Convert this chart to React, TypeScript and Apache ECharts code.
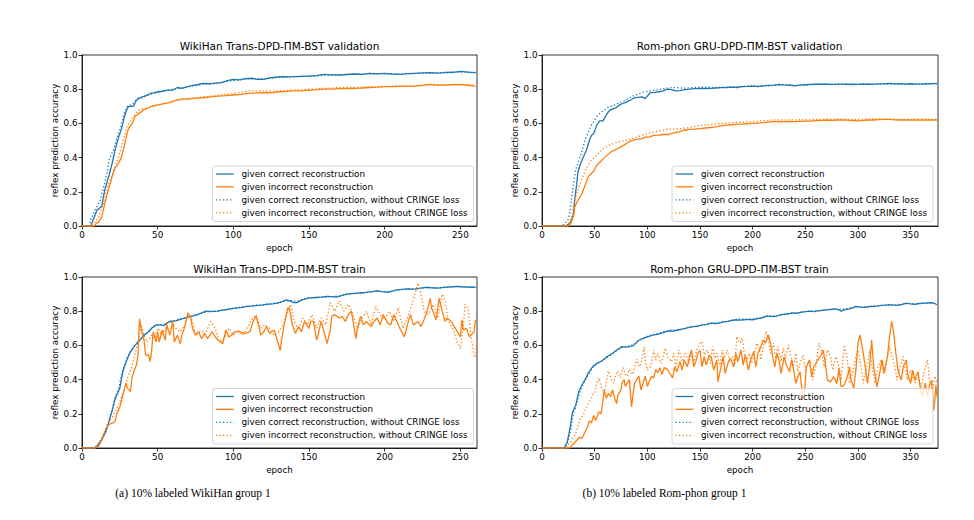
import React, { useEffect, useRef } from "react";
import * as echarts from "echarts";

// ---------- names ----------
const seriesNames = [
  "given correct reconstruction",
  "given incorrect reconstruction",
  "given correct reconstruction, without CRINGE loss",
  "given incorrect reconstruction, without CRINGE loss",
];
const panelTitles = [
  "WikiHan Trans-DPD-ΠM-BST validation",
  "Rom-phon GRU-DPD-ΠM-BST validation",
  "WikiHan Trans-DPD-ΠM-BST train",
  "Rom-phon GRU-DPD-ΠM-BST train",
];
const captions = ["(a) 10% labeled WikiHan group 1", "(b) 10% labeled Rom-phon group 1"];
const xTicksWiki = [0, 50, 100, 150, 200, 250];
const xTicksRom = [0, 50, 100, 150, 200, 250, 300, 350];
const yTicks = [0, 0.2, 0.4, 0.6, 0.8, 1.0];

// ---------- WikiHan validation ----------
const wikiValCorrect = [[0,0],[6,0],[7,0.03],[8,0.05],[10,0.095],[11,0.10],[13,0.115],[15,0.21],[18,0.30],[20,0.37],[22,0.45],[24,0.515],[26,0.565],[27,0.60],[28,0.64],[30,0.69],[31,0.70],[34,0.70],[36,0.735],[37,0.746],[40,0.755],[43,0.765],[45,0.775],[48,0.78],[50,0.785],[53,0.788],[56,0.795],[60,0.795],[63,0.81],[66,0.805],[70,0.815],[73,0.822],[76,0.826],[80,0.834],[84,0.832],[88,0.836],[92,0.838],[96,0.85],[100,0.857],[104,0.855],[108,0.862],[112,0.864],[116,0.858],[120,0.857],[124,0.866],[128,0.87],[132,0.873],[136,0.872],[140,0.873],[145,0.875],[150,0.877],[155,0.879],[160,0.887],[165,0.884],[170,0.883],[175,0.886],[180,0.889],[185,0.887],[190,0.893],[195,0.89],[200,0.893],[205,0.889],[210,0.887],[215,0.891],[220,0.893],[225,0.895],[230,0.897],[235,0.894],[240,0.898],[245,0.899],[250,0.904],[255,0.9],[260,0.897]];
const wikiValIncorrect = [[0,0],[8,0],[10,0.02],[11,0.023],[13,0.05],[15,0.13],[17,0.20],[19,0.26],[21,0.32],[22,0.34],[24,0.365],[26,0.40],[28,0.47],[30,0.55],[31,0.575],[33,0.595],[35,0.64],[38,0.66],[41,0.68],[44,0.69],[46,0.70],[50,0.707],[54,0.715],[58,0.722],[62,0.735],[66,0.742],[70,0.742],[75,0.748],[80,0.75],[85,0.755],[90,0.76],[95,0.762],[100,0.766],[105,0.77],[110,0.775],[115,0.778],[120,0.78],[125,0.778],[130,0.785],[135,0.787],[140,0.79],[145,0.79],[150,0.795],[155,0.797],[160,0.80],[165,0.80],[170,0.803],[175,0.804],[180,0.805],[185,0.807],[190,0.81],[195,0.812],[200,0.815],[205,0.815],[210,0.816],[215,0.817],[220,0.818],[225,0.822],[230,0.828],[235,0.824],[240,0.824],[245,0.826],[250,0.828],[255,0.823],[260,0.818]];
const wikiValCorrectNC = [[0,0],[5,0],[6,0.05],[7,0.06],[9,0.10],[12,0.15],[15,0.25],[17,0.33],[18,0.39],[21,0.45],[24,0.54],[26,0.59],[28,0.66],[30,0.70],[33,0.71],[36,0.74],[40,0.75],[45,0.77],[50,0.78],[55,0.79],[60,0.80],[65,0.805],[70,0.815],[75,0.82],[80,0.83],[85,0.83],[90,0.835],[95,0.845],[100,0.85],[105,0.855],[110,0.86],[115,0.862],[120,0.862],[125,0.865],[130,0.87],[135,0.87],[140,0.872],[145,0.875],[150,0.876],[155,0.878],[160,0.882],[165,0.883],[170,0.884],[175,0.886],[180,0.888],[185,0.887],[190,0.89],[195,0.889],[200,0.891],[205,0.889],[210,0.888],[215,0.89],[220,0.892],[225,0.893],[230,0.894],[235,0.893],[240,0.896],[245,0.897],[250,0.9],[255,0.899],[260,0.896]];
const wikiValIncorrectNC = [[0,0],[7,0],[9,0.03],[11,0.05],[14,0.13],[17,0.23],[20,0.30],[21,0.32],[24,0.40],[26,0.46],[28,0.53],[30,0.59],[31,0.60],[34,0.64],[38,0.68],[42,0.69],[46,0.70],[50,0.71],[55,0.715],[60,0.73],[65,0.74],[70,0.745],[75,0.75],[80,0.755],[85,0.76],[90,0.765],[95,0.77],[100,0.775],[105,0.782],[110,0.79],[115,0.79],[120,0.79],[125,0.788],[130,0.79],[135,0.793],[140,0.795],[145,0.797],[150,0.80],[155,0.803],[160,0.805],[165,0.807],[170,0.81],[175,0.81],[180,0.81],[185,0.812],[190,0.814],[195,0.815],[200,0.817],[205,0.818],[210,0.818],[215,0.82],[220,0.82],[225,0.824],[230,0.826],[235,0.826],[240,0.828],[245,0.828],[250,0.827],[255,0.825],[260,0.822]];

// ---------- Rom-phon validation ----------
const romValCorrect = [[0,0],[22,0],[25,0.01],[27,0.02],[30,0.07],[31,0.15],[33,0.25],[34,0.31],[36,0.355],[39,0.40],[42,0.44],[45,0.50],[47,0.53],[49,0.54],[52,0.59],[55,0.615],[58,0.615],[61,0.65],[64,0.675],[67,0.685],[70,0.69],[73,0.705],[76,0.715],[79,0.722],[82,0.73],[85,0.74],[88,0.75],[91,0.752],[95,0.755],[98,0.745],[100,0.76],[103,0.78],[107,0.782],[111,0.785],[115,0.79],[119,0.80],[123,0.797],[127,0.79],[131,0.792],[135,0.798],[140,0.80],[145,0.803],[150,0.805],[155,0.804],[160,0.805],[165,0.807],[170,0.809],[175,0.81],[180,0.812],[185,0.81],[190,0.815],[195,0.816],[200,0.818],[205,0.815],[210,0.82],[215,0.822],[220,0.824],[225,0.828],[230,0.825],[235,0.823],[240,0.82],[245,0.824],[250,0.826],[255,0.828],[260,0.83],[265,0.829],[270,0.83],[275,0.828],[280,0.83],[285,0.83],[290,0.829],[295,0.83],[300,0.828],[305,0.83],[310,0.829],[315,0.83],[320,0.831],[325,0.832],[330,0.834],[335,0.831],[340,0.832],[345,0.83],[350,0.832],[355,0.83],[360,0.83],[365,0.832],[370,0.833],[375,0.834]];
const romValIncorrect = [[0,0],[25,0],[27,0.01],[30,0.06],[31,0.11],[34,0.15],[38,0.19],[41,0.24],[44,0.29],[49,0.32],[52,0.355],[57,0.385],[61,0.41],[66,0.435],[71,0.45],[77,0.47],[82,0.49],[88,0.505],[94,0.51],[98,0.52],[102,0.52],[106,0.53],[111,0.532],[115,0.535],[120,0.535],[125,0.545],[130,0.55],[135,0.56],[140,0.565],[145,0.567],[150,0.57],[155,0.573],[160,0.576],[165,0.58],[170,0.585],[175,0.59],[180,0.592],[185,0.594],[190,0.596],[195,0.598],[200,0.60],[205,0.602],[210,0.604],[215,0.607],[220,0.61],[225,0.611],[230,0.61],[235,0.612],[240,0.61],[245,0.612],[250,0.613],[255,0.613],[260,0.616],[265,0.618],[270,0.62],[275,0.618],[280,0.62],[285,0.62],[290,0.619],[295,0.617],[300,0.615],[305,0.618],[310,0.62],[315,0.62],[320,0.622],[325,0.624],[330,0.623],[335,0.621],[340,0.62],[345,0.62],[350,0.621],[355,0.62],[360,0.62],[365,0.62],[370,0.621],[375,0.62]];
const romValCorrectNC = [[0,0],[18,0],[22,0.015],[25,0.04],[27,0.10],[28,0.16],[30,0.25],[32,0.33],[35,0.385],[38,0.44],[41,0.505],[44,0.55],[47,0.59],[52,0.64],[57,0.67],[63,0.695],[70,0.71],[79,0.735],[88,0.765],[98,0.785],[107,0.795],[117,0.805],[125,0.81],[135,0.806],[145,0.81],[155,0.812],[165,0.81],[175,0.812],[185,0.815],[195,0.818],[205,0.82],[215,0.82],[225,0.823],[235,0.825],[245,0.822],[255,0.826],[265,0.83],[275,0.827],[285,0.828],[295,0.826],[305,0.832],[315,0.828],[325,0.83],[335,0.829],[345,0.83],[355,0.831],[365,0.83],[375,0.832]];
const romValIncorrectNC = [[0,0],[24,0],[26,0.02],[28,0.05],[31,0.15],[34,0.21],[38,0.28],[42,0.335],[47,0.385],[52,0.415],[57,0.447],[63,0.47],[69,0.486],[79,0.50],[88,0.516],[98,0.537],[107,0.55],[118,0.565],[130,0.568],[140,0.576],[150,0.588],[165,0.596],[180,0.604],[200,0.611],[220,0.62],[240,0.621],[260,0.623],[280,0.625],[300,0.623],[320,0.627],[340,0.623],[360,0.625],[375,0.623]];

// ---------- WikiHan train ----------
const wikiTrainCorrect = [[0,0],[8,0],[10,0.012],[12,0.035],[14,0.065],[16,0.10],[18,0.16],[20,0.22],[22,0.29],[23,0.31],[25,0.35],[27,0.45],[29,0.50],[31,0.545],[33,0.575],[35,0.60],[37,0.62],[39,0.64],[41,0.66],[44,0.68],[46,0.70],[49,0.72],[52,0.72],[54,0.715],[56,0.73],[58,0.74],[62,0.744],[66,0.755],[69,0.763],[72,0.77],[76,0.779],[79,0.79],[82,0.80],[86,0.798],[89,0.80],[92,0.805],[96,0.81],[99,0.815],[102,0.818],[106,0.822],[109,0.828],[112,0.83],[116,0.834],[119,0.836],[122,0.84],[126,0.843],[129,0.847],[132,0.855],[135,0.866],[138,0.857],[140,0.85],[142,0.85],[145,0.865],[149,0.876],[152,0.878],[155,0.88],[158,0.882],[162,0.886],[165,0.885],[168,0.883],[172,0.892],[175,0.90],[178,0.903],[182,0.906],[185,0.908],[188,0.91],[192,0.915],[195,0.92],[198,0.914],[202,0.91],[205,0.918],[208,0.925],[212,0.928],[215,0.93],[218,0.929],[221,0.93],[225,0.936],[228,0.94],[231,0.937],[235,0.935],[238,0.938],[241,0.941],[245,0.943],[248,0.945],[251,0.943],[255,0.941],[258,0.94],[260,0.941]];
const wikiTrainIncorrect = [[0,0],[9,0],[11,0.01],[13,0.045],[15,0.094],[17,0.13],[19,0.143],[21,0.15],[22,0.16],[23,0.20],[25,0.24],[27,0.31],[29,0.38],[30,0.35],[32,0.33],[33,0.41],[35,0.466],[36,0.485],[37,0.544],[38,0.755],[39,0.70],[41,0.63],[42,0.544],[44,0.544],[45,0.505],[46,0.564],[47,0.68],[49,0.62],[50,0.68],[51,0.62],[53,0.69],[55,0.63],[56,0.72],[58,0.66],[60,0.74],[61,0.62],[63,0.66],[65,0.61],[66,0.66],[68,0.71],[70,0.79],[72,0.76],[73,0.70],[75,0.66],[77,0.68],[79,0.64],[81,0.67],[83,0.64],[86,0.68],[88,0.65],[90,0.63],[93,0.61],[95,0.69],[97,0.65],[99,0.66],[101,0.68],[104,0.68],[108,0.67],[111,0.68],[113,0.74],[115,0.77],[117,0.71],[118,0.66],[120,0.68],[122,0.71],[124,0.67],[127,0.69],[129,0.63],[131,0.57],[132,0.64],[134,0.74],[136,0.82],[137,0.82],[139,0.72],[141,0.67],[143,0.71],[145,0.68],[147,0.74],[150,0.70],[151,0.74],[153,0.74],[155,0.63],[156,0.66],[158,0.74],[160,0.68],[162,0.61],[164,0.69],[165,0.77],[167,0.78],[170,0.76],[172,0.77],[174,0.74],[176,0.78],[178,0.80],[181,0.64],[182,0.70],[184,0.77],[186,0.72],[188,0.74],[191,0.71],[193,0.74],[195,0.76],[197,0.72],[199,0.78],[202,0.73],[204,0.72],[206,0.78],[208,0.74],[210,0.70],[213,0.65],[215,0.72],[217,0.78],[219,0.72],[222,0.74],[224,0.71],[226,0.75],[228,0.80],[230,0.875],[231,0.82],[234,0.75],[236,0.875],[238,0.80],[240,0.74],[241,0.76],[244,0.74],[246,0.71],[248,0.68],[250,0.65],[251,0.75],[252,0.69],[254,0.70],[256,0.65],[257,0.66],[259,0.68],[260,0.75]];
const wikiTrainCorrectNC = [[0,0],[8,0],[10,0.015],[12,0.04],[14,0.07],[16,0.11],[18,0.17],[20,0.23],[22,0.30],[24,0.34],[26,0.42],[28,0.48],[30,0.53],[32,0.565],[34,0.59],[36,0.61],[38,0.63],[40,0.65],[43,0.675],[46,0.70],[49,0.715],[52,0.72],[55,0.725],[58,0.74],[62,0.748],[66,0.757],[70,0.765],[74,0.775],[78,0.785],[82,0.795],[86,0.80],[90,0.80],[94,0.808],[98,0.815],[102,0.822],[106,0.826],[110,0.83],[114,0.835],[118,0.836],[122,0.842],[126,0.845],[130,0.85],[134,0.86],[138,0.862],[142,0.858],[146,0.868],[150,0.876],[154,0.88],[158,0.883],[162,0.884],[166,0.886],[170,0.89],[174,0.898],[178,0.902],[182,0.905],[186,0.908],[190,0.912],[194,0.916],[198,0.915],[202,0.914],[206,0.92],[210,0.926],[214,0.93],[218,0.93],[222,0.933],[226,0.937],[230,0.938],[234,0.936],[238,0.939],[242,0.941],[246,0.944],[250,0.943],[254,0.942],[258,0.94],[260,0.94]];
const wikiTrainIncorrectNC = [[0,0],[9,0],[11,0.02],[13,0.055],[15,0.10],[17,0.14],[20,0.18],[23,0.23],[25,0.27],[28,0.35],[31,0.43],[33,0.48],[35,0.55],[37,0.62],[39,0.72],[41,0.66],[43,0.62],[46,0.66],[48,0.64],[50,0.70],[53,0.66],[56,0.72],[59,0.74],[62,0.70],[65,0.68],[68,0.72],[70,0.78],[72,0.77],[75,0.66],[78,0.68],[82,0.68],[85,0.74],[88,0.70],[91,0.62],[94,0.64],[97,0.70],[100,0.66],[103,0.69],[106,0.66],[109,0.70],[112,0.75],[115,0.78],[118,0.70],[121,0.72],[124,0.70],[127,0.66],[130,0.68],[133,0.72],[136,0.80],[138,0.84],[140,0.74],[143,0.70],[146,0.76],[149,0.72],[152,0.78],[155,0.70],[158,0.76],[161,0.72],[164,0.85],[167,0.80],[170,0.86],[173,0.80],[176,0.84],[179,0.78],[182,0.70],[185,0.76],[188,0.80],[191,0.72],[194,0.83],[197,0.78],[200,0.75],[203,0.80],[206,0.74],[209,0.82],[212,0.70],[215,0.76],[218,0.84],[220,0.90],[222,0.965],[224,0.90],[226,0.80],[229,0.78],[232,0.84],[235,0.76],[238,0.90],[240,0.86],[242,0.74],[245,0.70],[248,0.62],[250,0.58],[252,0.72],[253,0.84],[255,0.82],[257,0.66],[259,0.54],[260,0.53],[261,0.64]];

// ---------- Rom-phon train ----------
const romTrainCorrect = [[0,0],[21,0],[24,0.035],[27,0.13],[29,0.21],[32,0.25],[35,0.33],[38,0.37],[41,0.40],[44,0.44],[48,0.475],[52,0.495],[57,0.51],[62,0.535],[67,0.554],[71,0.573],[76,0.593],[80,0.59],[83,0.593],[87,0.60],[92,0.63],[98,0.646],[105,0.66],[110,0.665],[113,0.67],[118,0.68],[121,0.685],[125,0.683],[129,0.69],[133,0.695],[136,0.70],[140,0.705],[144,0.71],[148,0.712],[152,0.72],[156,0.722],[160,0.73],[164,0.728],[168,0.73],[172,0.737],[176,0.74],[180,0.745],[184,0.75],[188,0.748],[192,0.75],[196,0.752],[200,0.75],[204,0.755],[208,0.76],[211,0.765],[214,0.773],[218,0.768],[222,0.77],[226,0.778],[230,0.783],[234,0.785],[238,0.79],[242,0.788],[246,0.795],[250,0.797],[254,0.80],[258,0.798],[262,0.802],[266,0.805],[270,0.808],[274,0.81],[278,0.814],[282,0.808],[284,0.80],[288,0.81],[292,0.814],[295,0.82],[298,0.828],[302,0.824],[306,0.822],[310,0.826],[314,0.828],[318,0.83],[322,0.834],[326,0.835],[330,0.838],[334,0.836],[338,0.834],[342,0.84],[346,0.847],[350,0.843],[354,0.84],[358,0.845],[362,0.847],[366,0.848],[370,0.85],[373,0.845],[375,0.838]];
const romTrainIncorrect = [[0,0],[26,0],[27,0.005],[30,0.025],[33,0.045],[36,0.065],[38,0.055],[40,0.084],[43,0.12],[45,0.16],[47,0.147],[49,0.19],[51,0.16],[54,0.21],[56,0.20],[58,0.28],[59,0.34],[61,0.29],[63,0.32],[65,0.30],[67,0.34],[69,0.29],[71,0.26],[72,0.31],[75,0.34],[76,0.38],[78,0.40],[79,0.36],[81,0.38],[83,0.40],[85,0.24],[87,0.34],[88,0.38],[90,0.40],[92,0.42],[94,0.34],[96,0.38],[98,0.42],[100,0.36],[102,0.39],[104,0.42],[106,0.41],[108,0.46],[110,0.44],[112,0.47],[114,0.43],[116,0.47],[119,0.46],[121,0.44],[124,0.41],[126,0.475],[128,0.446],[131,0.505],[133,0.456],[135,0.515],[138,0.475],[140,0.534],[142,0.573],[144,0.475],[146,0.505],[148,0.554],[150,0.573],[152,0.475],[154,0.534],[156,0.485],[159,0.544],[161,0.524],[163,0.456],[166,0.515],[167,0.387],[170,0.475],[172,0.534],[174,0.436],[177,0.505],[179,0.524],[182,0.475],[184,0.554],[186,0.505],[189,0.573],[191,0.485],[193,0.544],[196,0.456],[198,0.515],[201,0.564],[203,0.475],[205,0.554],[208,0.593],[210,0.632],[212,0.613],[215,0.661],[217,0.613],[219,0.534],[221,0.475],[223,0.554],[225,0.515],[227,0.436],[230,0.534],[232,0.485],[235,0.446],[237,0.515],[239,0.456],[241,0.378],[243,0.417],[245,0.446],[247,0.33],[249,0.30],[251,0.475],[254,0.515],[256,0.417],[258,0.475],[262,0.515],[265,0.544],[267,0.573],[269,0.495],[271,0.397],[274,0.387],[277,0.417],[280,0.378],[282,0.466],[284,0.358],[287,0.368],[290,0.417],[292,0.475],[293,0.407],[296,0.348],[298,0.456],[300,0.613],[302,0.661],[304,0.593],[307,0.475],[309,0.378],[311,0.475],[313,0.632],[315,0.475],[318,0.358],[320,0.417],[323,0.515],[325,0.436],[328,0.534],[330,0.652],[332,0.74],[334,0.671],[336,0.554],[338,0.456],[341,0.397],[343,0.475],[346,0.515],[347,0.436],[350,0.378],[352,0.456],[354,0.397],[357,0.446],[359,0.358],[361,0.30],[364,0.38],[366,0.30],[368,0.368],[370,0.397],[372,0.22],[373,0.28],[374,0.37],[375,0.30]];
const romTrainCorrectNC = [[0,0],[21,0],[24,0.02],[27,0.10],[29,0.18],[32,0.24],[35,0.31],[38,0.36],[41,0.395],[44,0.43],[48,0.47],[52,0.49],[57,0.51],[62,0.53],[67,0.55],[71,0.57],[76,0.59],[80,0.595],[84,0.597],[88,0.61],[92,0.63],[98,0.65],[104,0.66],[110,0.67],[116,0.68],[122,0.69],[128,0.69],[134,0.695],[140,0.71],[146,0.712],[152,0.72],[158,0.725],[164,0.73],[170,0.735],[176,0.74],[182,0.75],[188,0.755],[194,0.752],[200,0.755],[206,0.76],[212,0.77],[218,0.772],[224,0.775],[230,0.78],[236,0.788],[242,0.79],[248,0.795],[254,0.80],[260,0.80],[266,0.806],[272,0.81],[278,0.812],[284,0.81],[290,0.815],[296,0.822],[302,0.826],[308,0.825],[314,0.83],[320,0.833],[326,0.835],[332,0.836],[338,0.838],[344,0.842],[350,0.845],[356,0.843],[362,0.846],[368,0.848],[372,0.846],[375,0.84]];
const romTrainIncorrectNC = [[0,0],[23,0],[24,0.005],[28,0.045],[32,0.084],[34,0.12],[36,0.17],[39,0.19],[41,0.22],[43,0.25],[46,0.28],[48,0.31],[50,0.32],[52,0.38],[54,0.41],[56,0.36],[59,0.32],[61,0.38],[63,0.45],[66,0.40],[68,0.38],[70,0.43],[72,0.45],[74,0.41],[77,0.47],[79,0.43],[81,0.42],[83,0.46],[86,0.43],[88,0.475],[90,0.52],[92,0.475],[94,0.495],[97,0.59],[98,0.515],[100,0.456],[103,0.475],[106,0.573],[108,0.515],[110,0.554],[113,0.495],[115,0.534],[117,0.583],[120,0.524],[123,0.505],[125,0.554],[127,0.475],[130,0.573],[133,0.505],[136,0.554],[140,0.495],[142,0.554],[144,0.495],[147,0.573],[150,0.613],[152,0.622],[154,0.544],[157,0.573],[160,0.495],[162,0.593],[164,0.524],[166,0.554],[169,0.485],[171,0.573],[173,0.524],[176,0.573],[178,0.505],[181,0.534],[183,0.485],[185,0.652],[188,0.613],[190,0.642],[192,0.554],[194,0.505],[197,0.554],[199,0.495],[201,0.534],[204,0.613],[206,0.593],[208,0.515],[211,0.632],[213,0.681],[215,0.632],[217,0.554],[220,0.613],[222,0.524],[224,0.593],[227,0.505],[229,0.583],[231,0.524],[234,0.603],[236,0.544],[239,0.475],[241,0.554],[243,0.446],[246,0.515],[248,0.544],[250,0.456],[254,0.515],[257,0.397],[260,0.475],[263,0.613],[266,0.554],[268,0.475],[271,0.573],[274,0.534],[276,0.456],[279,0.534],[282,0.475],[284,0.397],[287,0.603],[290,0.515],[292,0.378],[295,0.436],[298,0.534],[300,0.573],[303,0.475],[305,0.378],[308,0.456],[311,0.573],[313,0.495],[316,0.378],[319,0.475],[322,0.515],[324,0.436],[328,0.534],[330,0.593],[332,0.544],[335,0.475],[337,0.397],[340,0.475],[343,0.534],[345,0.456],[347,0.397],[350,0.456],[354,0.378],[357,0.417],[360,0.358],[363,0.45],[366,0.515],[368,0.397],[371,0.34],[373,0.42],[375,0.378]];

const FONT = "DejaVu Sans";
const BLUE = "#1f77b4";
const ORANGE = "#ff7f0e";
const LW = 1.3;
const DOT = [1.3, 2.2];

export default function App() {
  const ref = useRef<HTMLDivElement>(null);
  useEffect(() => {
    if (!ref.current) return;
    const chart = echarts.init(ref.current, undefined, { renderer: "svg" });

    const panels = [
      { left: 82, top: 55, width: 395, height: 171, xmax: 261, ticks: xTicksWiki, data: [wikiValCorrect, wikiValIncorrect, wikiValCorrectNC, wikiValIncorrectNC], legend: [212.5, 166] },
      { left: 542, top: 55, width: 396, height: 171, xmax: 376, ticks: xTicksRom, data: [romValCorrect, romValIncorrect, romValCorrectNC, romValIncorrectNC], legend: [672, 166] },
      { left: 82, top: 277, width: 395, height: 171, xmax: 261, ticks: xTicksWiki, data: [wikiTrainCorrect, wikiTrainIncorrect, wikiTrainCorrectNC, wikiTrainIncorrectNC], legend: [212.5, 388.5] },
      { left: 542, top: 277, width: 396, height: 171, xmax: 376, ticks: xTicksRom, data: [romTrainCorrect, romTrainIncorrect, romTrainCorrectNC, romTrainIncorrectNC], legend: [672, 388.5] },
    ];

    const labelStyle = { fontSize: 8.75, fontFamily: FONT, color: "#000" };
    const lineBlack = { color: "#000", width: 0.8 };

    const grid = panels.map((p) => ({
      left: p.left, top: p.top, width: p.width, height: p.height,
      show: true, borderColor: "#000", borderWidth: 0.8, backgroundColor: "transparent",
      containLabel: false,
    }));
    const xAxis = panels.map((p, i) => ({
      gridIndex: i, type: "value", min: 0, max: p.xmax,
      axisLine: { show: true, onZero: false, lineStyle: lineBlack },
      axisTick: { show: true, length: 3.5, inside: false, lineStyle: lineBlack, customValues: p.ticks },
      axisLabel: { ...labelStyle, margin: 4.5, customValues: p.ticks, formatter: (v: number) => String(v) },
      splitLine: { show: false },
      name: "epoch", nameLocation: "middle", nameGap: 17, nameTextStyle: labelStyle,
    }));
    const yAxis = panels.map((p, i) => ({
      gridIndex: i, type: "value", min: 0, max: 1,
      axisLine: { show: true, onZero: false, lineStyle: lineBlack },
      axisTick: { show: true, length: 3.5, inside: false, lineStyle: lineBlack, customValues: yTicks },
      axisLabel: { ...labelStyle, margin: 4.5, customValues: yTicks, formatter: (v: number) => v.toFixed(1) },
      splitLine: { show: false },
      name: "reflex prediction accuracy", nameLocation: "middle", nameGap: 23, nameTextStyle: labelStyle,
    }));

    const colors = [BLUE, ORANGE, BLUE, ORANGE];
    const series: any[] = [];
    panels.forEach((p, i) => {
      p.data.forEach((d, k) => {
        series.push({
          type: "line", name: seriesNames[k], data: d,
          xAxisIndex: i, yAxisIndex: i,
          symbol: "none", showSymbol: false, silent: true, clip: true,
          lineStyle: { color: colors[k], width: LW, type: k >= 2 ? DOT : "solid", cap: "butt" },
          itemStyle: { color: colors[k] },
          emphasis: { disabled: true },
        });
      });
    });

    const graphic: any[] = [];
    // legends (drawn as graphic boxes, matching matplotlib's legend frame)
    const rowOffsets = [8, 20.8, 33.8, 46.8];
    panels.forEach((p) => {
      const [lx, ly] = p.legend;
      graphic.push({
        type: "rect", silent: true, z: 100,
        shape: { x: lx, y: ly, width: 261, height: 55.5, r: 2.5 },
        style: { fill: "rgba(255,255,255,0.8)", stroke: "#cccccc", lineWidth: 0.8 },
      });
      seriesNames.forEach((n, k) => {
        const cy = ly + rowOffsets[k];
        graphic.push({
          type: "line", silent: true, z: 101,
          shape: { x1: lx + 3.5, y1: cy, x2: lx + 21.3, y2: cy },
          style: { stroke: colors[k], lineWidth: LW, lineDash: k >= 2 ? DOT : null, lineCap: "butt" },
        });
        graphic.push({
          type: "text", silent: true, z: 101, x: lx + 29, y: cy,
          style: { text: n, fontSize: 8.75, fontFamily: FONT, fill: "#000", align: "left", verticalAlign: "middle" },
        });
      });
    });

    const titleCenters = [[279.5, 46], [739.5, 46], [279.5, 268.5], [739.5, 268.5]];
    panelTitles.forEach((t, i) => {
      graphic.push({
        type: "text", x: titleCenters[i][0], y: titleCenters[i][1], silent: true,
        style: { text: t, fontSize: 10.5, fontFamily: FONT, fill: "#000", align: "center", verticalAlign: "middle" },
      });
    });
    const capCenters = [[193, 493], [664.5, 493]];
    captions.forEach((c, i) => {
      graphic.push({
        type: "text", x: capCenters[i][0], y: capCenters[i][1], silent: true,
        style: { text: c, fontSize: 11.5, fontFamily: "Liberation Serif", fill: "#000", align: "center", verticalAlign: "middle" },
      });
    });

    chart.setOption({
      animation: false,
      backgroundColor: "#fff",
      grid, xAxis, yAxis, series, graphic,
    });
    return () => chart.dispose();
  }, []);

  return <div ref={ref} style={{ position: "absolute", left: 0, top: 0, width: 974, height: 520 }} />;
}
